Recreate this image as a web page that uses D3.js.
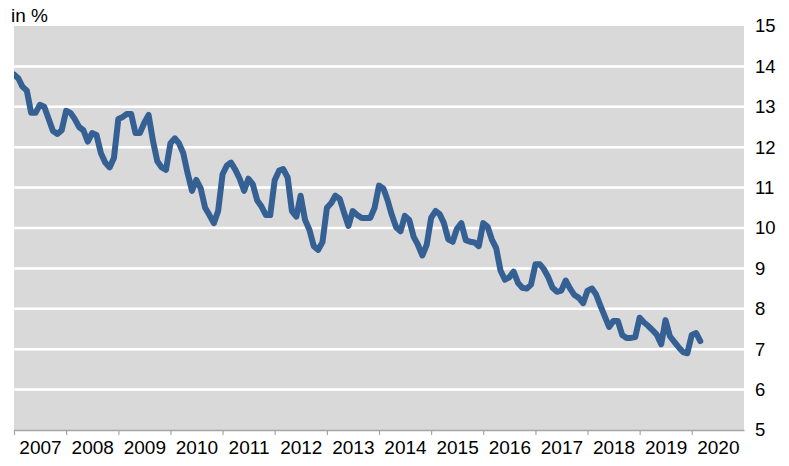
<!DOCTYPE html>
<html>
<head>
<meta charset="utf-8">
<script src="https://cdn.jsdelivr.net/npm/d3@7"></script>
<style>
  body { margin: 0; background: #fff; }
  text { font-family: "Liberation Sans", Arial, sans-serif; fill: #000; }
</style>
</head>
<body>
<div id="chart"></div>
<script>
// monthly values, Jan 2007 .. Mar 2020
const values = [
  13.8, 13.7, 13.5, 13.4, 12.85, 12.85, 13.05, 13.0, 12.7, 12.4, 12.33, 12.42,
  12.9, 12.85, 12.7, 12.5, 12.42, 12.14, 12.35, 12.3, 11.85, 11.62, 11.5, 11.73,
  12.7, 12.75, 12.82, 12.82, 12.35, 12.35, 12.6, 12.8, 12.15, 11.65, 11.5, 11.44,
  12.1, 12.22, 12.1, 11.85, 11.36, 10.92, 11.19, 10.98, 10.5, 10.32, 10.12, 10.42,
  11.33, 11.55, 11.62, 11.44, 11.22, 10.92, 11.22, 11.08, 10.68, 10.53, 10.32, 10.32,
  11.18, 11.42, 11.46, 11.25, 10.42, 10.28, 10.8, 10.2, 9.95, 9.55, 9.46, 9.65,
  10.5, 10.62, 10.8, 10.72, 10.38, 10.05, 10.42, 10.32, 10.25, 10.25, 10.25, 10.5,
  11.05, 10.98, 10.7, 10.32, 10.02, 9.92, 10.3, 10.2, 9.78, 9.58, 9.32, 9.58,
  10.25, 10.42, 10.35, 10.12, 9.72, 9.66, 9.98, 10.12, 9.7, 9.66, 9.64, 9.55,
  10.12, 10.03, 9.72, 9.5, 8.95, 8.72, 8.78, 8.92, 8.64, 8.52, 8.5, 8.6,
  9.1, 9.1, 8.98, 8.78, 8.52, 8.42, 8.45, 8.7, 8.5, 8.34, 8.27, 8.14,
  8.45, 8.5, 8.36, 8.08, 7.82, 7.55, 7.7, 7.7, 7.35, 7.28, 7.28, 7.3,
  7.78, 7.66, 7.58, 7.47, 7.36, 7.12, 7.72, 7.32, 7.18, 7.05, 6.93, 6.9,
  7.35, 7.4, 7.2
];
const startYear = 2007;
const years = d3.range(2007, 2021);
const yTicks = [5, 6, 7, 8, 9, 10, 11, 12, 13, 14, 15];
const unitLabel = "in %";

const width = 789, height = 466;
const margin = {top: 26, right: 45, bottom: 36, left: 14};

const svg = d3.select("#chart").append("svg")
    .attr("width", width)
    .attr("height", height);

const x = d3.scaleTime()
    .domain([new Date(2007, 0, 1), new Date(2021, 0, 1)])
    .range([margin.left, width - margin.right]);

const y = d3.scaleLinear()
    .domain([5, 15])
    .range([height - margin.bottom, margin.top]);

// plot background
svg.append("rect")
    .attr("x", x.range()[0])
    .attr("y", y(15))
    .attr("width", x.range()[1] - x.range()[0])
    .attr("height", y(5) - y(15))
    .attr("fill", "#d9d9d9");

// white gridlines
svg.append("g")
  .selectAll("line")
  .data(yTicks.filter(d => d > 5 && d < 15))
  .join("line")
    .attr("x1", x.range()[0])
    .attr("x2", x.range()[1])
    .attr("y1", d => y(d))
    .attr("y2", d => y(d))
    .attr("stroke", "#fff")
    .attr("stroke-width", 2.5);

// x axis: ticks at year starts, labels centered in each year
const xAxis = svg.append("g")
    .attr("transform", `translate(0,${y(5)})`)
    .call(d3.axisBottom(x)
      .tickValues(years.map(yr => new Date(yr, 0, 1)))
      .tickSize(5)
      .tickSizeOuter(0)
      .tickFormat(""));
xAxis.select(".domain").attr("stroke", "#a6a6a6").attr("stroke-width", 1.5);
xAxis.selectAll(".tick line").attr("stroke", "#a6a6a6").attr("stroke-width", 1.2);

const xLabels = svg.append("g")
    .attr("transform", `translate(0,${y(5)})`)
    .call(d3.axisBottom(x)
      .tickValues(years.map(yr => new Date(yr, 6, 2)))
      .tickSize(0)
      .tickPadding(11)
      .tickFormat(d3.timeFormat("%Y")));
xLabels.select(".domain").remove();
xLabels.selectAll("text")
    .attr("font-size", 19)
    .attr("font-family", "Liberation Sans, Arial, sans-serif")
    .attr("fill", "#000");

// y axis on the right
const yAxis = svg.append("g")
    .attr("transform", `translate(${x.range()[1]},0)`)
    .call(d3.axisRight(y).tickValues(yTicks).tickSize(0).tickPadding(11));
yAxis.select(".domain").remove();
yAxis.selectAll("text")
    .attr("font-size", 18.5)
    .attr("font-family", "Liberation Sans, Arial, sans-serif")
    .attr("fill", "#000");

// unit label
svg.append("text")
    .attr("x", 11)
    .attr("y", 22)
    .attr("font-size", 19)
    .text(unitLabel);

// clip to plot
svg.append("clipPath").attr("id", "plot")
  .append("rect")
    .attr("x", x.range()[0])
    .attr("y", 0)
    .attr("width", x.range()[1] - x.range()[0])
    .attr("height", height);

const line = d3.line()
    .x((d, i) => x(new Date(startYear, i, 1)))
    .y(d => y(d));

svg.append("path")
    .datum(values)
    .attr("clip-path", "url(#plot)")
    .attr("fill", "none")
    .attr("stroke", "#356094")
    .attr("stroke-width", 6)
    .attr("stroke-linejoin", "round")
    .attr("stroke-linecap", "round")
    .attr("d", line);
</script>
</body>
</html>
